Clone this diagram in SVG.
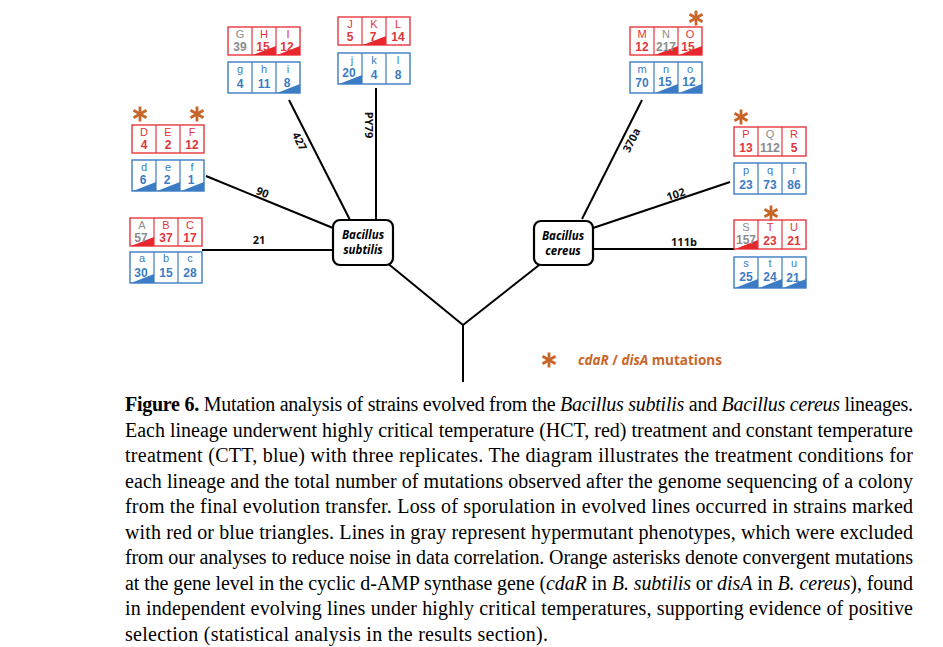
<svg xmlns="http://www.w3.org/2000/svg" xmlns:xlink="http://www.w3.org/1999/xlink" width="943" height="647" viewBox="0 0 943 647">
<style>
.rb{fill:#fff;stroke:#e8383d;stroke-width:1.4}
.bb{fill:#fff;stroke:#3b7cc4;stroke-width:1.4}
.rd{stroke:#e8383d;stroke-width:1.2}
.bd{stroke:#3b7cc4;stroke-width:1.2}
.rt{fill:#e8262e}
.bt{fill:#3b7cc4}
.l{font-family:"Liberation Sans","Open Sans",sans-serif;font-size:11px;text-anchor:middle}
.n{font-family:"Liberation Sans","Open Sans",sans-serif;font-size:12px;font-weight:bold;text-anchor:middle}
.r{fill:#e0363b}
.g{fill:#8c8c8c}
.b{fill:#3b7cc4}
.edge{stroke:#000;stroke-width:2;fill:none}
.el{font-family:"Open Sans","Liberation Sans",sans-serif;font-size:11px;font-weight:bold;text-anchor:middle;fill:#111}
.node rect{fill:#fff;stroke:#000;stroke-width:2.2}
.nt{font-family:"Open Sans","Liberation Sans",sans-serif;font-size:11.5px;font-weight:bold;font-style:italic;text-anchor:middle;fill:#000}
.cap{font-family:"Liberation Serif","Times New Roman",serif;font-size:20px;fill:#000}
.ast{stroke:#c8662a;stroke-width:2.8;stroke-linecap:butt}
</style>
<defs>
<g id="ast" class="ast">
<line x1="0" y1="-7.5" x2="0" y2="7.5"/>
<line x1="-6.5" y1="-3.75" x2="6.5" y2="3.75"/>
<line x1="-6.5" y1="3.75" x2="6.5" y2="-3.75"/>
</g>
<path id="rtri" d="M1,28 L24,28 L24,19Z"/>
<path id="btri" d="M1,31 L24,31 L24,22Z"/>
</defs>

<g id="connectors">
<line class="edge" x1="463" y1="325" x2="463" y2="382"/>
<line class="edge" x1="463" y1="325" x2="386" y2="262"/>
<line class="edge" x1="463" y1="325" x2="543" y2="262"/>
<line class="edge" x1="202" y1="250" x2="333" y2="250"/>
<line class="edge" x1="206" y1="176" x2="333" y2="228"/>
<line class="edge" x1="289" y1="100" x2="350" y2="220"/>
<line class="edge" x1="376" y1="88" x2="376" y2="220"/>
<line class="edge" x1="593" y1="249" x2="735" y2="249"/>
<line class="edge" x1="593" y1="228" x2="730" y2="182"/>
<line class="edge" x1="642" y1="100" x2="582" y2="219"/>
<text class="el" x="259" y="244">21</text>
<text class="el" transform="translate(261,196) rotate(22)">90</text>
<text class="el" transform="translate(296,143) rotate(63)">427</text>
<text class="el" transform="translate(365,125) rotate(90)">PY79</text>
<text class="el" transform="translate(635,142) rotate(-63)">370a</text>
<text class="el" transform="translate(677,198) rotate(-18)">102</text>
<text class="el" x="684" y="246">111b</text>
</g>

<g id="node-subtilis" class="node">
<rect x="333" y="220" width="60" height="45" rx="7"/>
<text class="nt" x="363" y="239">Bacillus</text>
<text class="nt" x="363" y="254">subtilis</text>
</g>
<g id="node-cereus" class="node">
<rect x="534" y="221" width="59" height="44" rx="7"/>
<text class="nt" x="563" y="240">Bacillus</text>
<text class="nt" x="563" y="255">cereus</text>
</g>

<!-- ABC -->
<g id="box-ABC" transform="translate(130,218)">
<rect class="rb" x="0" y="0" width="72" height="28"/>
<use href="#rtri" class="rt"/>
<line class="rd" x1="24" y1="0" x2="24" y2="28"/><line class="rd" x1="48" y1="0" x2="48" y2="28"/>
<text class="l g" x="12" y="10.5">A</text><text class="n g" x="11" y="24">57</text>
<text class="l r" x="36" y="10.5">B</text><text class="n r" x="36" y="24">37</text>
<text class="l r" x="60" y="10.5">C</text><text class="n r" x="60" y="24">17</text>
</g>
<g id="box-abc" transform="translate(130,252)">
<rect class="bb" x="0" y="0" width="72" height="31"/>
<use href="#btri" class="bt"/>
<line class="bd" x1="24" y1="0" x2="24" y2="31"/><line class="bd" x1="48" y1="0" x2="48" y2="31"/>
<text class="l b" x="12" y="10">a</text><text class="n b" x="11" y="25">30</text>
<text class="l b" x="36" y="10">b</text><text class="n b" x="36" y="25">15</text>
<text class="l b" x="60" y="10">c</text><text class="n b" x="60" y="25">28</text>
</g>

<!-- DEF -->
<g id="box-DEF" transform="translate(132,125)">
<rect class="rb" x="0" y="0" width="72" height="28"/>
<line class="rd" x1="24" y1="0" x2="24" y2="28"/><line class="rd" x1="48" y1="0" x2="48" y2="28"/>
<text class="l r" x="12" y="10.5">D</text><text class="n r" x="12" y="24">4</text>
<text class="l r" x="36" y="10.5">E</text><text class="n r" x="36" y="24">2</text>
<text class="l r" x="60" y="10.5">F</text><text class="n r" x="60" y="24">12</text>
</g>
<g id="box-def" transform="translate(132,160)">
<rect class="bb" x="0" y="0" width="72" height="31"/>
<use href="#btri" class="bt"/><use href="#btri" class="bt" x="24"/><use href="#btri" class="bt" x="48"/>
<line class="bd" x1="24" y1="0" x2="24" y2="31"/><line class="bd" x1="48" y1="0" x2="48" y2="31"/>
<text class="l b" x="12" y="10.5">d</text><text class="n b" x="11" y="24">6</text>
<text class="l b" x="36" y="10.5">e</text><text class="n b" x="35" y="24">2</text>
<text class="l b" x="60" y="10.5">f</text><text class="n b" x="59" y="24">1</text>
</g>

<!-- GHI -->
<g id="box-GHI" transform="translate(228,27)">
<rect class="rb" x="0" y="0" width="72" height="28"/>
<use href="#rtri" class="rt" x="24"/><use href="#rtri" class="rt" x="48"/>
<line class="rd" x1="24" y1="0" x2="24" y2="28"/><line class="rd" x1="48" y1="0" x2="48" y2="28"/>
<text class="l g" x="12" y="10.5">G</text><text class="n g" x="12" y="24">39</text>
<text class="l r" x="36" y="10.5">H</text><text class="n r" x="35" y="24">15</text>
<text class="l r" x="60" y="10.5">I</text><text class="n r" x="59" y="24">12</text>
</g>
<g id="box-ghi" transform="translate(228,62)">
<rect class="bb" x="0" y="0" width="72" height="31"/>
<use href="#btri" class="bt" x="48"/>
<line class="bd" x1="24" y1="0" x2="24" y2="31"/><line class="bd" x1="48" y1="0" x2="48" y2="31"/>
<text class="l b" x="12" y="10.5">g</text><text class="n b" x="12" y="26">4</text>
<text class="l b" x="36" y="10.5">h</text><text class="n b" x="36" y="26">11</text>
<text class="l b" x="60" y="10.5">i</text><text class="n b" x="59" y="25">8</text>
</g>

<!-- JKL -->
<g id="box-JKL" transform="translate(338,17)">
<rect class="rb" x="0" y="0" width="72" height="28"/>
<use href="#rtri" class="rt" x="24"/>
<line class="rd" x1="24" y1="0" x2="24" y2="28"/><line class="rd" x1="48" y1="0" x2="48" y2="28"/>
<text class="l r" x="12" y="10.5">J</text><text class="n r" x="12" y="24">5</text>
<text class="l r" x="36" y="10.5">K</text><text class="n r" x="35" y="24">7</text>
<text class="l r" x="60" y="10.5">L</text><text class="n r" x="60" y="24">14</text>
</g>
<g id="box-jkl" transform="translate(338,53)">
<rect class="bb" x="0" y="0" width="72" height="31"/>
<use href="#btri" class="bt"/>
<line class="bd" x1="24" y1="0" x2="24" y2="31"/><line class="bd" x1="48" y1="0" x2="48" y2="31"/>
<text class="l b" x="14" y="10.5">j</text><text class="n b" x="11" y="24">20</text>
<text class="l b" x="36" y="10.5">k</text><text class="n b" x="36" y="26">4</text>
<text class="l b" x="60" y="10.5">l</text><text class="n b" x="60" y="26">8</text>
</g>

<!-- MNO -->
<g id="box-MNO" transform="translate(630,27)">
<rect class="rb" x="0" y="0" width="72" height="28"/>
<use href="#rtri" class="rt" x="24"/><use href="#rtri" class="rt" x="48"/>
<line class="rd" x1="24" y1="0" x2="24" y2="28"/><line class="rd" x1="48" y1="0" x2="48" y2="28"/>
<text class="l r" x="12" y="10.5">M</text><text class="n r" x="12" y="24">12</text>
<text class="l g" x="36" y="10.5">N</text><text class="n g" x="36" y="24" textLength="20" lengthAdjust="spacingAndGlyphs">217</text>
<text class="l r" x="60" y="10.5">O</text><text class="n r" x="58" y="24">15</text>
</g>
<g id="box-mno" transform="translate(630,62)">
<rect class="bb" x="0" y="0" width="72" height="31"/>
<use href="#btri" class="bt" x="24"/><use href="#btri" class="bt" x="48"/>
<line class="bd" x1="24" y1="0" x2="24" y2="31"/><line class="bd" x1="48" y1="0" x2="48" y2="31"/>
<text class="l b" x="12" y="10.5">m</text><text class="n b" x="12" y="25">70</text>
<text class="l b" x="36" y="10.5">n</text><text class="n b" x="35" y="24">15</text>
<text class="l b" x="60" y="10.5">o</text><text class="n b" x="59" y="24">12</text>
</g>

<!-- PQR -->
<g id="box-PQR" transform="translate(734,127)">
<rect class="rb" x="0" y="0" width="72" height="29"/>
<line class="rd" x1="24" y1="0" x2="24" y2="29"/><line class="rd" x1="48" y1="0" x2="48" y2="29"/>
<text class="l r" x="12" y="11">P</text><text class="n r" x="12" y="25">13</text>
<text class="l g" x="36" y="11">Q</text><text class="n g" x="36" y="25" textLength="20" lengthAdjust="spacingAndGlyphs">112</text>
<text class="l r" x="60" y="11">R</text><text class="n r" x="60" y="25">5</text>
</g>
<g id="box-pqr" transform="translate(734,163)">
<rect class="bb" x="0" y="0" width="72" height="31"/>
<line class="bd" x1="24" y1="0" x2="24" y2="31"/><line class="bd" x1="48" y1="0" x2="48" y2="31"/>
<text class="l b" x="12" y="11">p</text><text class="n b" x="12" y="26">23</text>
<text class="l b" x="36" y="11">q</text><text class="n b" x="36" y="26">73</text>
<text class="l b" x="60" y="11">r</text><text class="n b" x="60" y="26">86</text>
</g>

<!-- STU -->
<g id="box-STU" transform="translate(734,220)">
<rect class="rb" x="0" y="0" width="72" height="29"/>
<use href="#rtri" class="rt" y="1"/>
<line class="rd" x1="24" y1="0" x2="24" y2="29"/><line class="rd" x1="48" y1="0" x2="48" y2="29"/>
<text class="l g" x="12" y="11">S</text><text class="n g" x="12" y="24" textLength="20" lengthAdjust="spacingAndGlyphs">157</text>
<text class="l r" x="36" y="11">T</text><text class="n r" x="36" y="25">23</text>
<text class="l r" x="60" y="11">U</text><text class="n r" x="60" y="25">21</text>
</g>
<g id="box-stu" transform="translate(734,257)">
<rect class="bb" x="0" y="0" width="72" height="31"/>
<use href="#btri" class="bt"/><use href="#btri" class="bt" x="24"/><use href="#btri" class="bt" x="48"/>
<line class="bd" x1="24" y1="0" x2="24" y2="31"/><line class="bd" x1="48" y1="0" x2="48" y2="31"/>
<text class="l b" x="12" y="10">s</text><text class="n b" x="12" y="24">25</text>
<text class="l b" x="36" y="10">t</text><text class="n b" x="36" y="24">24</text>
<text class="l b" x="60" y="10">u</text><text class="n b" x="59" y="25">21</text>
</g>

<!-- asterisks -->
<g id="asterisks">
<use href="#ast" x="140" y="114"/>
<use href="#ast" x="197" y="114"/>
<use href="#ast" x="696" y="18"/>
<use href="#ast" x="741" y="117"/>
<use href="#ast" x="771" y="213"/>
</g>

<g id="legend">
<use href="#ast" x="549" y="360"/>
<text x="578" y="365" font-family="'Open Sans','Liberation Sans',sans-serif" font-size="13.5px" font-weight="bold" fill="#c8662a"><tspan font-style="italic">cdaR</tspan> / <tspan font-style="italic">disA</tspan> mutations</text>
</g>

<g id="caption" class="cap">
<text x="125" y="411" textLength="788" lengthAdjust="spacing"><tspan font-weight="bold">Figure 6.</tspan> Mutation analysis of strains evolved from the <tspan font-style="italic">Bacillus subtilis</tspan> and <tspan font-style="italic">Bacillus cereus</tspan> lineages.</text>
<text x="125" y="437" textLength="788" lengthAdjust="spacing">Each lineage underwent highly critical temperature (HCT, red) treatment and constant temperature</text>
<text x="125" y="462" textLength="788" lengthAdjust="spacing">treatment (CTT, blue) with three replicates.  The diagram illustrates the treatment conditions for</text>
<text x="125" y="488" textLength="788" lengthAdjust="spacing">each lineage and the total number of mutations observed after the genome sequencing of a colony</text>
<text x="125" y="513" textLength="788" lengthAdjust="spacing">from the final evolution transfer. Loss of sporulation in evolved lines occurred in strains marked</text>
<text x="125" y="539" textLength="788" lengthAdjust="spacing">with red or blue triangles. Lines in gray represent hypermutant phenotypes, which were excluded</text>
<text x="125" y="564" textLength="788" lengthAdjust="spacing">from our analyses to reduce noise in data correlation. Orange asterisks denote convergent mutations</text>
<text x="125" y="590" textLength="788" lengthAdjust="spacing">at the gene level in the cyclic d-AMP synthase gene (<tspan font-style="italic">cdaR</tspan> in <tspan font-style="italic">B. subtilis</tspan> or <tspan font-style="italic">disA</tspan> in <tspan font-style="italic">B. cereus</tspan>), found</text>
<text x="125" y="615" textLength="788" lengthAdjust="spacing">in independent evolving lines under highly critical temperatures, supporting evidence of positive</text>
<text x="125" y="641" textLength="423" lengthAdjust="spacing">selection (statistical analysis in the results section).</text>
</g>
</svg>
